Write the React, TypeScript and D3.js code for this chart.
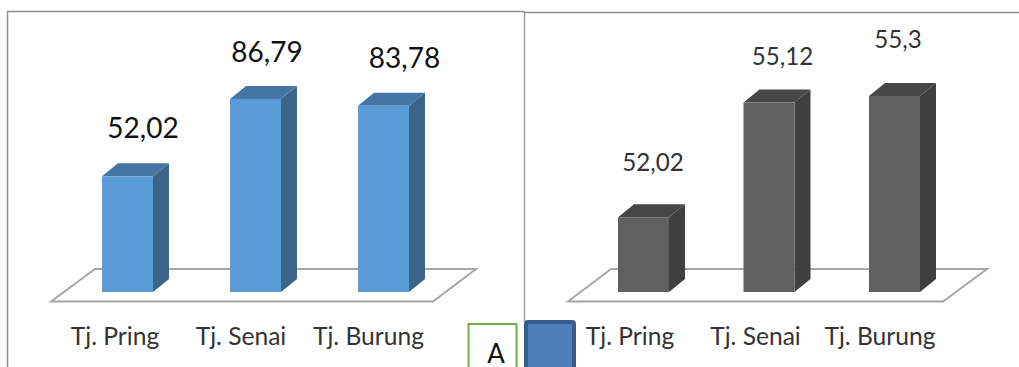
import React from "react";
import * as d3 from "d3";

const categories = ["Tj. Pring", "Tj. Senai", "Tj. Burung"];
const leftValues = [52.02, 86.79, 83.78];
const rightValues = [52.02, 55.12, 55.3];
const leftLabels = ["52,02", "86,79", "83,78"];
const rightLabels = ["52,02", "55,12", "55,3"];

const WIDTH = 1019;
const HEIGHT = 367;
const BASE_Y = 292;
const BAR_W = 51;
const DEPTH_X = 16;
const DEPTH_Y = 13;
const FONT = "Lato, 'Open Sans', sans-serif";

type Panel = {
  values: number[];
  labels: string[];
  x: d3.ScalePoint<string>;
  y: d3.ScaleLinear<number, number>;
  colors: { front: string; side: string; top: string };
  floor: [number, number][];
  labelDx: number[];
  labelDy: number[];
  labelSize: number;
  labelColor: string;
  catCenters: number[];
};

const panels: Panel[] = [
  {
    values: leftValues,
    labels: leftLabels,
    x: d3.scalePoint<string>().domain(categories).range([127.5, 383.5]),
    y: d3.scaleLinear().domain([0, 100]).range([BASE_Y, BASE_Y - 222.4]),
    colors: { front: "#5b9bd5", side: "#3a6488", top: "#4575a3" },
    floor: [[51, 301.5], [95, 269], [476, 269], [433, 301.5]],
    labelDx: [15.5, 11.5, 21],
    labelDy: [38, 37, 38],
    labelSize: 28,
    labelColor: "#111111",
    catCenters: [115, 241, 368.5],
  },
  {
    values: rightValues,
    labels: rightLabels,
    x: d3.scalePoint<string>().domain(categories).range([643.5, 894.5]),
    // The value axis of this panel starts at 50, not zero.
    y: d3.scaleLinear().domain([50, 56]).range([BASE_Y, BASE_Y - 222]),
    colors: { front: "#606060", side: "#3f3f3f", top: "#474747" },
    floor: [[568, 301.5], [611, 269], [987, 269], [943, 301.5]],
    labelDx: [9.5, 13.5, 3.5],
    labelDy: [46, 38, 48],
    labelSize: 24.2,
    labelColor: "#333333",
    catCenters: [630, 755.5, 880],
  },
];

const poly = d3.line();

function Bars({ p }: { p: Panel }) {
  return (
    <g>
      <path d={poly(p.floor) + "Z"} fill="#ffffff" stroke="#a6a6a6" strokeWidth={2} strokeLinejoin="miter" />
      {categories.map((c, i) => {
        const cx = p.x(c) as number;
        const l = cx - BAR_W / 2;
        const r = cx + BAR_W / 2;
        const t = p.y(p.values[i]);
        const topFace: [number, number][] = [[l, t], [l + DEPTH_X, t - DEPTH_Y], [r + DEPTH_X, t - DEPTH_Y], [r, t]];
        const sideFace: [number, number][] = [[r, t], [r + DEPTH_X, t - DEPTH_Y], [r + DEPTH_X, BASE_Y - DEPTH_Y], [r, BASE_Y]];
        return (
          <g key={c}>
            <path d={poly(sideFace) + "Z"} fill={p.colors.side} />
            <path d={poly(topFace) + "Z"} fill={p.colors.top} />
            <rect x={l} y={t} width={BAR_W} height={BASE_Y - t} fill={p.colors.front} />
            <text
              x={cx + p.labelDx[i]}
              y={t - p.labelDy[i]}
              textAnchor="middle"
              fontFamily={FONT}
              fontSize={p.labelSize}
              fill={p.labelColor}
            >
              {p.labels[i]}
            </text>
            <text
              x={p.catCenters[i]}
              y={345}
              textAnchor="middle"
              fontFamily={FONT}
              fontSize={24.6}
              fill="#333333"
            >
              {c}
            </text>
          </g>
        );
      })}
    </g>
  );
}

export default function App() {
  return (
    <svg
      width={WIDTH}
      height={HEIGHT}
      viewBox={`0 0 ${WIDTH} ${HEIGHT}`}
      style={{ position: "absolute", left: 0, top: 0, display: "block", background: "#ffffff" }}
    >
      {/* Panel frames */}
      <path d="M7.5 367V11.5H524.5" fill="none" stroke="#8f8f8f" strokeWidth={1.5} />
      <path d="M524.5 11.5V322" fill="none" stroke="#a0a0a0" strokeWidth={1.5} />
      <path d="M524.5 12.5H1019" fill="none" stroke="#8f8f8f" strokeWidth={1.5} />

      {panels.map((p, i) => (
        <Bars key={i} p={p} />
      ))}

      {/* Panel tag */}
      <rect x={468.5} y={324} width={48} height={50} fill="#ffffff" stroke="#70ad47" strokeWidth={2} />
      <text x={496} y={362.5} textAnchor="middle" fontFamily={FONT} fontSize={26} fill="#111111">A</text>

      {/* Legend swatch */}
      <rect x={526} y={322} width={48} height={52} rx={2} fill="#4f7fba" stroke="#385d8a" strokeWidth={4} />
    </svg>
  );
}
